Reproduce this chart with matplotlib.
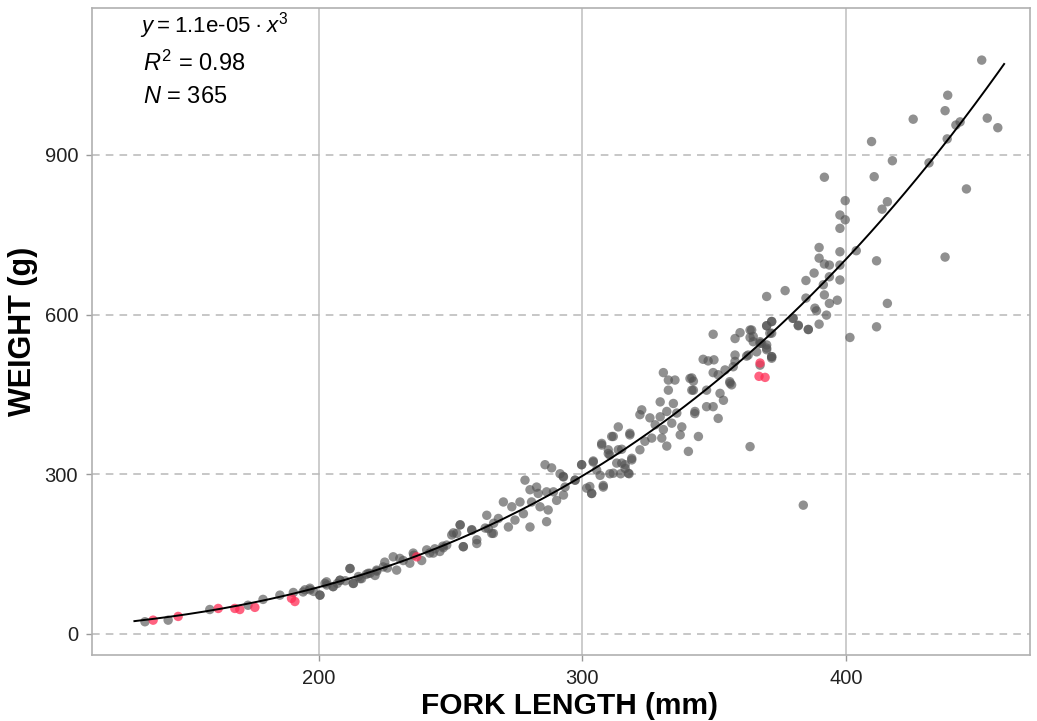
import numpy as np
import matplotlib
matplotlib.use("Agg")
import matplotlib.pyplot as plt

plt.rcParams['font.family'] = ['Liberation Sans', 'DejaVu Sans']
plt.rcParams['mathtext.fontset'] = 'custom'
plt.rcParams['mathtext.rm'] = 'Liberation Sans'
plt.rcParams['mathtext.it'] = 'Liberation Sans:italic'

# ---- data (fork length mm, weight g) ----
gray_x = [
    134.0, 142.8, 158.6, 173.1, 178.8, 185.2, 190.3, 194.7, 196.6, 200.4, 202.9,
    205.4, 208.0, 211.8, 213.0, 215.6, 218.7, 221.9,
    194.0, 196.6, 200.4, 202.3, 205.4, 208.0, 211.8, 213.1, 216.2, 219.4, 221.3,
    224.4, 225.0, 228.2, 229.5, 230.7, 234.5, 235.8, 239.0, 240.9, 243.4,
    245.9, 248.5, 250.4, 252.3, 253.6, 254.8, 258.0, 259.9, 263.1, 265.6, 266.3,
    198.0, 203.0, 207.0, 210.0, 215.0, 218.0, 222.0, 226.0, 232.0, 236.0, 242.0,
    244.0, 247.0,
    247.2, 251.0, 253.6, 254.8, 258.0, 259.9, 263.7, 264.3, 266.2, 268.1, 270.0,
    271.9, 273.2, 274.4, 276.3, 277.6, 278.2, 280.1, 280.1, 280.7, 282.6, 283.2,
    283.9, 286.4, 287.0, 286.4, 285.8, 288.3, 289.0, 290.2, 291.5, 292.8, 292.8,
    293.4, 297.2, 299.7, 301.6, 303.5, 304.1, 305.4, 307.3, 307.9, 309.8, 310.4,
    311.7, 313.0, 314.9, 316.2, 318.0, 318.7, 314.5, 317.7,
    292.7, 297.2, 299.7, 302.8, 304.1, 303.5, 306.7, 307.3, 307.9, 309.8, 310.4,
    311.1, 311.7, 313.6, 313.6, 314.9, 316.2, 317.4, 318.0, 318.7, 321.8, 322.5,
    321.8, 323.7, 325.6, 326.3, 327.6, 329.5, 329.5, 330.1, 330.7, 332.0, 332.0,
    332.6, 333.9, 334.5, 335.8, 337.1, 337.7, 340.2, 341.5, 342.7, 344.0, 347.1,
    330.7, 332.6, 335.1, 340.8, 342.1, 349.6, 351.5, 354.1, 357.2, 355.9, 356.6,
    352.2, 353.5, 347.1, 342.1, 349.6, 342.6, 351.5, 341.5, 356.0, 362.9,
    345.8, 347.7, 349.9, 357.9, 357.9, 362.3, 366.1, 367.4, 371.8,
    349.6, 357.9, 359.8, 363.6, 363.6, 364.8, 369.9, 371.8, 367.4, 369.9, 371.1,
    380.0, 385.7, 381.9, 364.2, 367.4, 369.9, 371.8, 364.8,
    363.6, 383.8,
    451.5, 438.6, 437.6, 425.5, 453.6, 457.6, 441.7, 443.3, 438.4, 409.7, 417.6,
    431.5, 391.8, 410.7, 445.7, 399.7, 415.7, 413.7, 397.7, 399.7, 397.7, 389.8,
    397.7, 403.9, 389.8, 391.8, 393.7, 397.7, 411.6, 437.6, 387.9, 384.8, 393.7,
    391.4, 397.7, 376.9, 369.9, 384.8, 391.8, 393.7, 396.7, 388.2, 388.8, 392.6,
    415.7, 379.8, 371.8, 369.9, 381.9, 385.7, 389.8, 411.6, 401.5, 371.8, 368.0,
    369.9, 371.8,
]
gray_y = [
    23, 26, 46, 54, 65, 73, 78, 83, 86, 73, 98,
    89, 101, 123, 95, 104, 114, 120,
    79, 83, 73, 95, 89, 101, 123, 95, 104, 114, 110,
    126, 135, 145, 120, 142, 133, 152, 138, 158, 152,
    155, 167, 186, 189, 205, 164, 196, 177, 199, 189, 208,
    80, 92, 95, 100, 108, 112, 118, 124, 138, 148, 152,
    160, 165,
    162, 190, 205, 164, 195, 170, 223, 198, 189, 217, 248,
    201, 239, 214, 248, 226, 289, 271, 201, 248, 276, 264,
    239, 211, 233, 267, 318, 312, 267, 251, 301, 295, 261,
    276, 289, 318, 274, 264, 323, 308, 358, 276, 339, 301,
    371, 321, 347, 318, 374, 330, 301, 301,
    296, 289, 318, 277, 325, 264, 298, 355, 279, 346, 336,
    371, 302, 389, 346, 321, 311, 302, 377, 327, 412, 421,
    346, 362, 406, 368, 393, 408, 436, 368, 384, 418, 353,
    458, 396, 433, 415, 374, 389, 343, 458, 418, 371, 427,
    491, 477, 477, 480, 475, 491, 487, 496, 502, 474, 468,
    452, 439, 458, 458, 427, 414, 405, 481, 471, 524,
    516, 513, 515, 524, 512, 522, 530, 505, 518,
    563, 555, 566, 571, 557, 549, 579, 587, 546, 537, 565,
    593, 572, 580, 571, 549, 543, 521, 559,
    352, 242,
    1078, 1012, 983, 967, 969, 951, 956, 962, 930, 925, 889,
    885, 858, 859, 836, 814, 812, 798, 787, 778, 762, 726,
    718, 720, 706, 695, 693, 693, 701, 708, 678, 664, 671,
    656, 665, 645, 634, 631, 637, 621, 627, 612, 607, 599,
    621, 593, 587, 579, 579, 572, 582, 577, 557, 565, 546,
    534, 521,
]
red_x = [137.1, 146.6, 161.8, 168.1, 170.0, 175.7, 189.6, 190.9, 237.1, 367.4, 369.3, 367.0]
red_y = [26, 33, 48, 48, 46, 50, 67, 61, 145, 509, 482, 484]

fit_a = 1.1e-05
fit_x_range = (130, 460)

x_ticks = [200, 300, 400]
y_ticks = [0, 300, 600, 900]

# ---- figure ----
fig = plt.figure(figsize=(10.37, 7.21), dpi=100)
ax = fig.add_axes([0.0887, 0.0915, 0.9045, 0.8975])

ax.set_xlim(113.9, 469.8)
ax.set_ylim(-39.5, 1176)

for xv in x_ticks:
    ax.axvline(xv, color='#c8c8c8', lw=1.3, zorder=0)
for yv in y_ticks:
    ax.axhline(yv, color='#b8b8b8', lw=1.1, ls=(0, (5, 4)), zorder=0)

ax.scatter(gray_x, gray_y, s=46, color='#525252', alpha=0.64, edgecolors='none', zorder=2)
ax.scatter(red_x, red_y, s=46, color='#ff2d55', alpha=0.75, edgecolors='none', zorder=3)

xf = np.linspace(fit_x_range[0], fit_x_range[1], 300)
ax.plot(xf, fit_a * xf ** 3, color='black', lw=1.4, zorder=4)

ax.set_xticks(x_ticks)
ax.set_yticks(y_ticks)
ax.tick_params(axis='both', labelsize=14.5, colors='#222222', length=4, width=1,
               color='#999999', pad=6)
for s in ax.spines.values():
    s.set_color('#b0b0b0')
    s.set_linewidth(1.2)

ax.set_xlabel('FORK LENGTH (mm)', fontsize=21.5, fontweight='bold', labelpad=3, x=0.509)
ax.set_ylabel('WEIGHT (g)', fontsize=22, fontweight='bold', labelpad=5)

ax.text(0.051, 0.973, '$y$\u2009=\u20091.1e-05\u2009\u00b7\u2009$x^3$', transform=ax.transAxes,
        fontsize=16, va='center', ha='left')
ax.text(0.054, 0.914, '$R^2$ = 0.98', transform=ax.transAxes,
        fontsize=17, va='center', ha='left')
ax.text(0.054, 0.862, '$N$ = 365', transform=ax.transAxes,
        fontsize=17, va='center', ha='left')

fig.savefig('out.png', dpi=100)
